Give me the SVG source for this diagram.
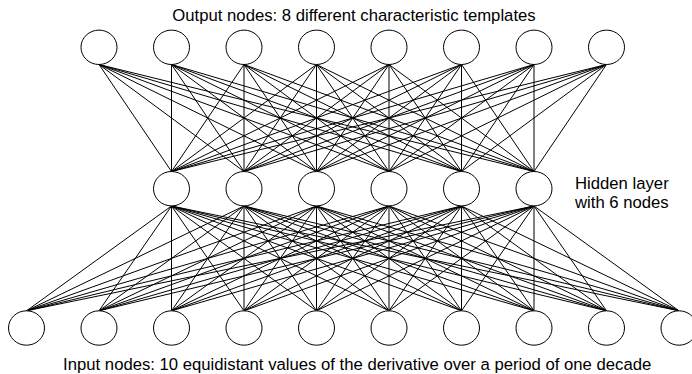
<svg xmlns="http://www.w3.org/2000/svg" width="692" height="374" viewBox="0 0 692 374">
<style>
.n{fill:#fff;stroke:#000;stroke-width:1}
.c path{fill:none;stroke:#000;stroke-width:1}
text{font-family:"Liberation Sans",Arial,sans-serif;font-size:16.7px;fill:#000}
</style>
<rect width="692" height="374" fill="#fff"/>
<g id="connectors" class="c">
<path d="M99 64.5L171.5 171.5M99 64.5L244 171.5M99 64.5L316.5 171.5M99 64.5L389 171.5M99 64.5L461.5 171.5M99 64.5L534 171.5"/>
<path d="M171.5 64.5L171.5 171.5M171.5 64.5L244 171.5M171.5 64.5L316.5 171.5M171.5 64.5L389 171.5M171.5 64.5L461.5 171.5M171.5 64.5L534 171.5"/>
<path d="M244 64.5L171.5 171.5M244 64.5L244 171.5M244 64.5L316.5 171.5M244 64.5L389 171.5M244 64.5L461.5 171.5M244 64.5L534 171.5"/>
<path d="M316.5 64.5L171.5 171.5M316.5 64.5L244 171.5M316.5 64.5L316.5 171.5M316.5 64.5L389 171.5M316.5 64.5L461.5 171.5M316.5 64.5L534 171.5"/>
<path d="M389 64.5L171.5 171.5M389 64.5L244 171.5M389 64.5L316.5 171.5M389 64.5L389 171.5M389 64.5L461.5 171.5M389 64.5L534 171.5"/>
<path d="M461.5 64.5L171.5 171.5M461.5 64.5L244 171.5M461.5 64.5L316.5 171.5M461.5 64.5L389 171.5M461.5 64.5L461.5 171.5M461.5 64.5L534 171.5"/>
<path d="M534 64.5L171.5 171.5M534 64.5L244 171.5M534 64.5L316.5 171.5M534 64.5L389 171.5M534 64.5L461.5 171.5M534 64.5L534 171.5"/>
<path d="M606.5 64.5L171.5 171.5M606.5 64.5L244 171.5M606.5 64.5L316.5 171.5M606.5 64.5L389 171.5M606.5 64.5L461.5 171.5M606.5 64.5L534 171.5"/>
<path d="M171.5 206L26.5 310.8M171.5 206L99 310.8M171.5 206L171.5 310.8M171.5 206L244 310.8M171.5 206L316.5 310.8M171.5 206L389 310.8M171.5 206L461.5 310.8M171.5 206L534 310.8M171.5 206L606.5 310.8M171.5 206L679 310.8"/>
<path d="M244 206L26.5 310.8M244 206L99 310.8M244 206L171.5 310.8M244 206L244 310.8M244 206L316.5 310.8M244 206L389 310.8M244 206L461.5 310.8M244 206L534 310.8M244 206L606.5 310.8M244 206L679 310.8"/>
<path d="M316.5 206L26.5 310.8M316.5 206L99 310.8M316.5 206L171.5 310.8M316.5 206L244 310.8M316.5 206L316.5 310.8M316.5 206L389 310.8M316.5 206L461.5 310.8M316.5 206L534 310.8M316.5 206L606.5 310.8M316.5 206L679 310.8"/>
<path d="M389 206L26.5 310.8M389 206L99 310.8M389 206L171.5 310.8M389 206L244 310.8M389 206L316.5 310.8M389 206L389 310.8M389 206L461.5 310.8M389 206L534 310.8M389 206L606.5 310.8M389 206L679 310.8"/>
<path d="M461.5 206L26.5 310.8M461.5 206L99 310.8M461.5 206L171.5 310.8M461.5 206L244 310.8M461.5 206L316.5 310.8M461.5 206L389 310.8M461.5 206L461.5 310.8M461.5 206L534 310.8M461.5 206L606.5 310.8M461.5 206L679 310.8"/>
<path d="M534 206L26.5 310.8M534 206L99 310.8M534 206L171.5 310.8M534 206L244 310.8M534 206L316.5 310.8M534 206L389 310.8M534 206L461.5 310.8M534 206L534 310.8M534 206L606.5 310.8M534 206L679 310.8"/>
</g>
<g id="output-nodes">
<g id="out1"><ellipse class="n" cx="99" cy="47.3" rx="18" ry="17.2"/></g>
<g id="out2"><ellipse class="n" cx="171.5" cy="47.3" rx="18" ry="17.2"/></g>
<g id="out3"><ellipse class="n" cx="244" cy="47.3" rx="18" ry="17.2"/></g>
<g id="out4"><ellipse class="n" cx="316.5" cy="47.3" rx="18" ry="17.2"/></g>
<g id="out5"><ellipse class="n" cx="389" cy="47.3" rx="18" ry="17.2"/></g>
<g id="out6"><ellipse class="n" cx="461.5" cy="47.3" rx="18" ry="17.2"/></g>
<g id="out7"><ellipse class="n" cx="534" cy="47.3" rx="18" ry="17.2"/></g>
<g id="out8"><ellipse class="n" cx="606.5" cy="47.3" rx="18" ry="17.2"/></g>
</g>
<g id="hidden-nodes">
<g id="hid1"><ellipse class="n" cx="171.5" cy="188.7" rx="18" ry="17.2"/></g>
<g id="hid2"><ellipse class="n" cx="244" cy="188.7" rx="18" ry="17.2"/></g>
<g id="hid3"><ellipse class="n" cx="316.5" cy="188.7" rx="18" ry="17.2"/></g>
<g id="hid4"><ellipse class="n" cx="389" cy="188.7" rx="18" ry="17.2"/></g>
<g id="hid5"><ellipse class="n" cx="461.5" cy="188.7" rx="18" ry="17.2"/></g>
<g id="hid6"><ellipse class="n" cx="534" cy="188.7" rx="18" ry="17.2"/></g>
</g>
<g id="input-nodes">
<g id="in1"><ellipse class="n" cx="26.5" cy="328" rx="18" ry="17.2"/></g>
<g id="in2"><ellipse class="n" cx="99" cy="328" rx="18" ry="17.2"/></g>
<g id="in3"><ellipse class="n" cx="171.5" cy="328" rx="18" ry="17.2"/></g>
<g id="in4"><ellipse class="n" cx="244" cy="328" rx="18" ry="17.2"/></g>
<g id="in5"><ellipse class="n" cx="316.5" cy="328" rx="18" ry="17.2"/></g>
<g id="in6"><ellipse class="n" cx="389" cy="328" rx="18" ry="17.2"/></g>
<g id="in7"><ellipse class="n" cx="461.5" cy="328" rx="18" ry="17.2"/></g>
<g id="in8"><ellipse class="n" cx="534" cy="328" rx="18" ry="17.2"/></g>
<g id="in9"><ellipse class="n" cx="606.5" cy="328" rx="18" ry="17.2"/></g>
<g id="in10"><ellipse class="n" cx="679" cy="328" rx="18" ry="17.2"/></g>
</g>
<g id="labels">
<text x="354" y="20.5" text-anchor="middle">Output nodes: 8 different characteristic templates</text>
<text x="575" y="189.3">Hidden layer</text>
<text x="575" y="207.7">with 6 nodes</text>
<text x="357.2" y="369.8" text-anchor="middle">Input nodes: 10 equidistant values of the derivative over a period of one decade</text>
</g>
</svg>
